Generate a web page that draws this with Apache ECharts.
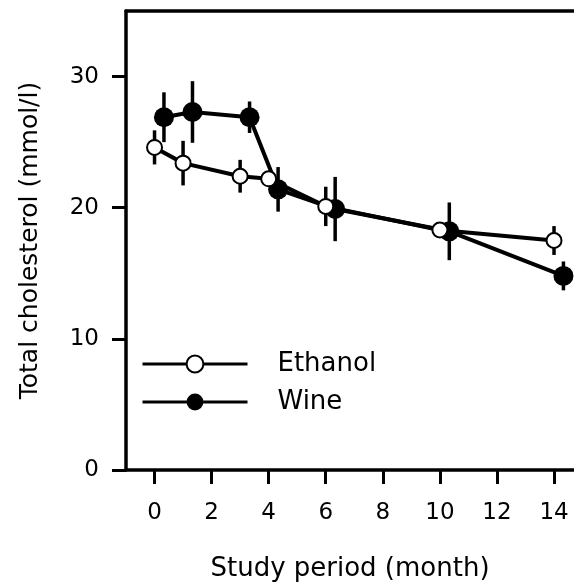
<!DOCTYPE html>
<html>
<head>
<meta charset="utf-8">
<script src="https://cdn.jsdelivr.net/npm/echarts@6/dist/echarts.min.js"></script>
<style>html,body{margin:0;padding:0;background:#fff}#c{width:574px;height:582px}</style>
</head>
<body>
<div id="c"></div>
<script>
// Data
const ethanolMonths = [0, 1, 3, 4, 6, 10, 14];
const ethanolValues = [24.6, 23.4, 22.4, 22.2, 20.1, 18.3, 17.5];
const ethanolErr    = [1.3, 1.7, 1.25, 0.6, 1.5, 0.6, 1.1];

const wineMonths = [0.33, 1.33, 3.33, 4.33, 6.33, 10.33, 14.33];
const wineValues = [26.9, 27.3, 26.9, 21.4, 19.9, 18.2, 14.8];
const wineErr    = [1.9, 2.35, 1.2, 1.7, 2.45, 2.2, 1.1];

const xTicks = [0, 2, 4, 6, 8, 10, 12, 14];
const yTicks = [0, 10, 20, 30];

const FONT = 'DejaVu Sans';

const pts = (xs, ys) => xs.map((x, i) => [x, ys[i]]);
const bars = (xs, ys, es) => xs.map((x, i) => [x, ys[i] - es[i], ys[i] + es[i]]);

function errRender(params, api) {
  const p1 = api.coord([api.value(0), api.value(1)]);
  const p2 = api.coord([api.value(0), api.value(2)]);
  return {
    type: 'line',
    shape: { x1: p1[0], y1: p1[1], x2: p2[0], y2: p2[1] },
    style: { stroke: '#000', lineWidth: 3.5 }
  };
}

const chart = echarts.init(document.getElementById('c'));
chart.setOption({
  animation: false,
  backgroundColor: '#fff',
  textStyle: { fontFamily: FONT, color: '#000' },
  grid: { left: 126, right: 0, top: 11, bottom: 112, containLabel: false, outerBoundsMode: 'none' },
  legend: {
    orient: 'vertical',
    left: 141, top: 351, padding: 0,
    itemWidth: 105, itemHeight: 21, itemGap: 12,
    data: ['Ethanol', 'Wine'],
    lineStyle: { width: 3 },
    textStyle: { fontFamily: FONT, fontSize: 26, color: '#000', padding: [0, 0, 0, 25] },
    selectedMode: false
  },
  xAxis: [{
    type: 'value', min: -1, max: 14.7,
    name: 'Study period (month)', nameLocation: 'middle', nameGap: 86,
    nameTextStyle: { fontFamily: FONT, fontSize: 26, color: '#000' },
    axisLine: { show: true, onZero: false, lineStyle: { color: '#000', width: 3.5 } },
    axisTick: { show: true, inside: false, length: 14, lineStyle: { color: '#000', width: 3 }, customValues: xTicks },
    axisLabel: { fontFamily: FONT, fontSize: 23, color: '#000', margin: 32, customValues: xTicks },
    splitLine: { show: false }
  }, {
    type: 'value', position: 'top', min: -1, max: 14.7,
    axisLine: { show: true, onZero: false, lineStyle: { color: '#000', width: 3.5 } },
    axisTick: { show: false }, axisLabel: { show: false }, splitLine: { show: false }
  }],
  yAxis: {
    type: 'value', min: 0, max: 35,
    name: 'Total cholesterol (mmol/l)', nameLocation: 'middle', nameGap: 83,
    nameTextStyle: { fontFamily: FONT, fontSize: 25, color: '#000' },
    axisLine: { show: true, onZero: false, lineStyle: { color: '#000', width: 3.5 } },
    axisTick: { show: true, inside: false, length: 14, lineStyle: { color: '#000', width: 3 }, customValues: yTicks },
    axisLabel: { fontFamily: FONT, fontSize: 23, color: '#000', margin: 27, customValues: yTicks },
    splitLine: { show: false }
  },
  series: [
    {
      name: 'wineErr', type: 'custom', z: 1,
      data: bars(wineMonths, wineValues, wineErr), renderItem: errRender,
      encode: { x: 0, y: [1, 2] }, silent: true
    },
    {
      name: 'ethanolErr', type: 'custom', z: 1,
      data: bars(ethanolMonths, ethanolValues, ethanolErr), renderItem: errRender,
      encode: { x: 0, y: [1, 2] }, silent: true
    },
    {
      name: 'Wine', type: 'line', z: 2,
      data: pts(wineMonths, wineValues),
      symbol: 'circle', symbolSize: 20, showAllSymbol: true,
      lineStyle: { color: '#000', width: 4 },
      itemStyle: { color: '#000', borderWidth: 0 }
    },
    {
      name: 'Ethanol', type: 'line', z: 3,
      data: pts(ethanolMonths, ethanolValues),
      symbol: 'emptyCircle', symbolSize: 15, showAllSymbol: true,
      lineStyle: { color: '#000', width: 4 },
      itemStyle: { color: '#000', borderColor: '#000', borderWidth: 3 }
    }
  ]
});
</script>
</body>
</html>
